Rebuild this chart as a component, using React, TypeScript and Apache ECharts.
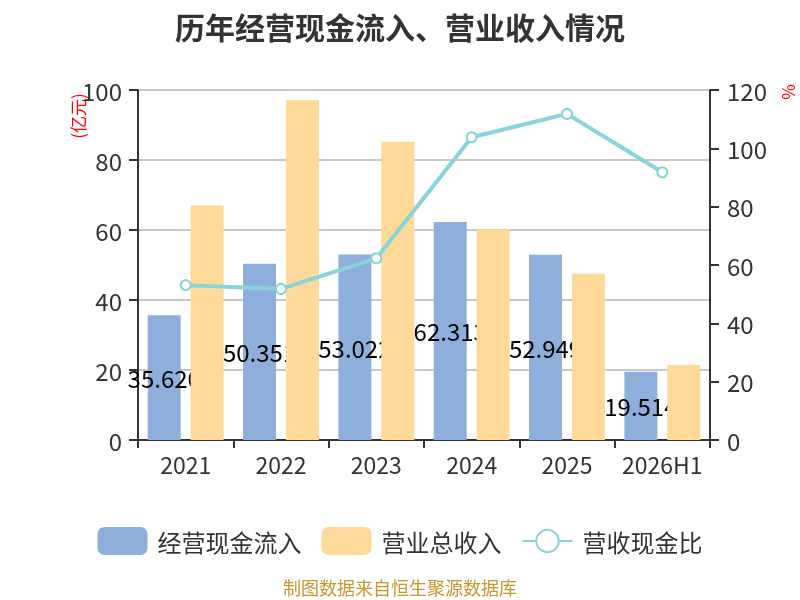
import React, { useEffect, useRef } from "react";
import * as echarts from "echarts";

const categories = ["2021", "2022", "2023", "2024", "2025", "2026H1"];
const cashInflow = [35.62, 50.351, 53.022, 62.313, 52.949, 19.514];
const revenue = [67.1, 97.1, 85.2, 60.2, 47.5, 21.4];
const ratio = [53.1, 51.8, 62.3, 103.8, 111.8, 91.8];
const leftTicks = { min: 0, max: 100, interval: 20 };
const rightTicks = { min: 0, max: 120, interval: 20 };

const FONT = "Noto Sans CJK SC";

export default function App() {
  const ref = useRef<HTMLDivElement>(null);
  useEffect(() => {
    if (!ref.current) return;
    const chart = echarts.init(ref.current, undefined, { renderer: "svg" });
    chart.setOption({
      animation: false,
      textStyle: { fontFamily: FONT },
      title: {
        text: "历年经营现金流入、营业收入情况",
        left: "center",
        top: 6,
        textStyle: { fontSize: 30, fontWeight: "bold", color: "#333", fontFamily: FONT },
      },
      grid: { left: 138, right: 90, top: 90, bottom: 160 },
      legend: {
        top: 522,
        left: "center",
        itemWidth: 50,
        itemHeight: 28,
        itemGap: 20,
        textStyle: { fontSize: 24, color: "#333", fontFamily: FONT, padding: [0, 0, 0, 5] },
        data: [
          { name: "经营现金流入", icon: "roundRect" },
          { name: "营业总收入", icon: "roundRect" },
          { name: "营收现金比" },
        ],
      },
      xAxis: {
        type: "category",
        data: categories,
        boundaryGap: true,
        axisLine: { lineStyle: { color: "#333", width: 2 } },
        axisTick: { show: true, length: 8, interval: 0, lineStyle: { color: "#333", width: 2 } },
        axisLabel: { fontSize: 23, color: "#333", margin: 12, interval: 0 },
      },
      yAxis: [
        {
          type: "value",
          ...leftTicks,
          axisLine: { show: true, lineStyle: { color: "#333", width: 2 } },
          axisTick: { show: true, length: 9, lineStyle: { color: "#333", width: 2 } },
          axisLabel: { fontSize: 24, color: "#333", margin: 16 },
          splitLine: { show: true, lineStyle: { color: "#c8c8c8", width: 2 } },
        },
        {
          type: "value",
          position: "right",
          ...rightTicks,
          axisLine: { show: true, lineStyle: { color: "#333", width: 2 } },
          axisTick: { show: true, length: 9, lineStyle: { color: "#333", width: 2 } },
          axisLabel: { fontSize: 24, color: "#333", margin: 17 },
          splitLine: { show: false },
        },
      ],
      series: [
        {
          name: "经营现金流入",
          type: "bar",
          data: cashInflow,
          barWidth: 33,
          barGap: "30%",
          z: 2,
          itemStyle: { color: "#8eaedb" },
          label: {
            show: true,
            position: "inside",
            fontSize: 24,
            color: "#000",
            fontFamily: FONT,
            formatter: (p: any) => Number(p.value).toFixed(3),
          },
        },
        {
          name: "营业总收入",
          type: "bar",
          data: revenue,
          barWidth: 33,
          barGap: "30%",
          z: 3,
          itemStyle: { color: "#fed998" },
        },
        {
          name: "营收现金比",
          type: "line",
          yAxisIndex: 1,
          data: ratio,
          z: 4,
          symbol: "emptyCircle",
          symbolSize: 10,
          lineStyle: { color: "#88d4d8", width: 4 },
          itemStyle: { color: "#88d4d8", borderWidth: 2 },
        },
      ],
      graphic: [
        {
          type: "text",
          x: 77,
          y: 116,
          rotation: Math.PI / 2,
          style: {
            text: "(亿元)",
            fill: "#ff0000",
            fontSize: 17,
            fontFamily: FONT,
            align: "center",
            verticalAlign: "middle",
          },
        },
        {
          type: "text",
          x: 787,
          y: 92,
          rotation: Math.PI / 2,
          style: {
            text: "%",
            fill: "#ff0000",
            fontSize: 17,
            fontFamily: FONT,
            align: "center",
            verticalAlign: "middle",
          },
        },
        {
          type: "text",
          x: 400,
          y: 587,
          style: {
            text: "制图数据来自恒生聚源数据库",
            fill: "#c9952d",
            fontSize: 18,
            fontFamily: FONT,
            align: "center",
            verticalAlign: "middle",
          },
        },
      ],
    });
    return () => chart.dispose();
  }, []);
  return (
    <div
      ref={ref}
      style={{ position: "fixed", left: 0, top: 0, width: 800, height: 600 }}
    />
  );
}
